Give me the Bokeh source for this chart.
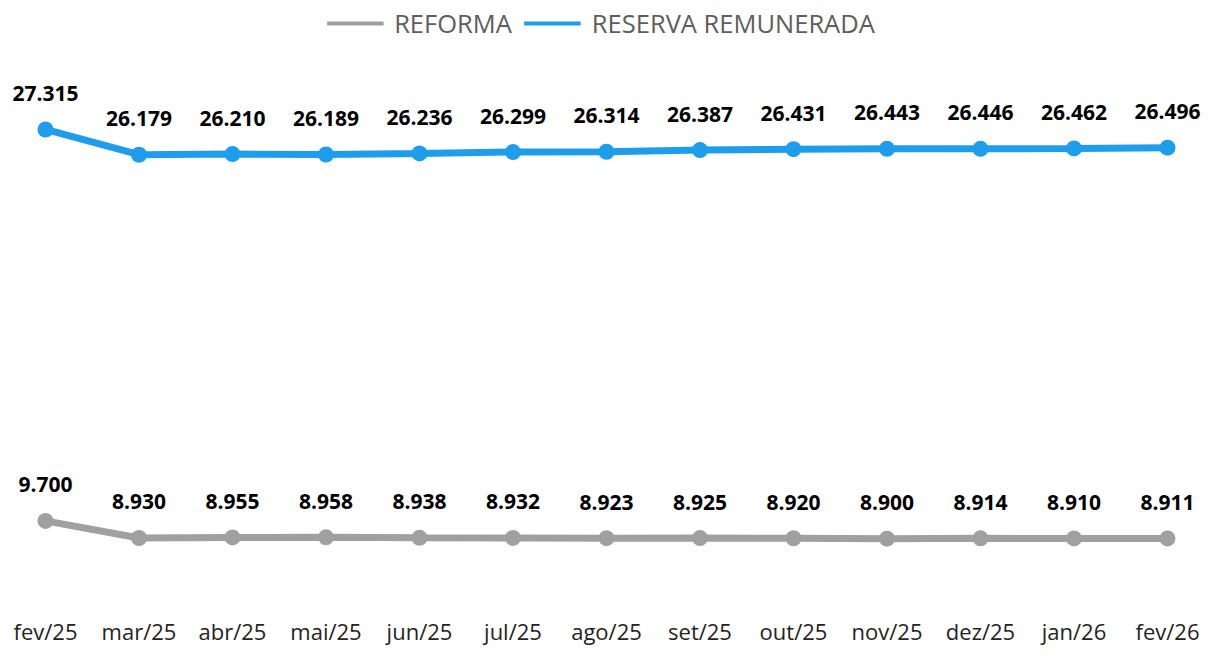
from bokeh.plotting import figure
from bokeh.models import ColumnDataSource, Legend, LegendItem, Range1d, FixedTicker
from bokeh.core.properties import value
from bokeh.embed import file_html
from bokeh.resources import INLINE

months = ["fev/25", "mar/25", "abr/25", "mai/25", "jun/25", "jul/25", "ago/25",
          "set/25", "out/25", "nov/25", "dez/25", "jan/26", "fev/26"]
reforma = [9700, 8930, 8955, 8958, 8938, 8932, 8923, 8925, 8920, 8900, 8914, 8910, 8911]
reserva = [27315, 26179, 26210, 26189, 26236, 26299, 26314, 26387, 26431, 26443, 26446, 26462, 26496]

BLUE = "#1F9DED"
GRAY = "#A0A0A0"
FONT = "Open Sans"

def fmt(v):
    return f"{v:,}".replace(",", ".")

idx = list(range(len(months)))
src_r = ColumnDataSource(dict(x=idx, y=reforma, lbl=[fmt(v) for v in reforma]))
src_b = ColumnDataSource(dict(x=idx, y=reserva, lbl=[fmt(v) for v in reserva]))

# x: first point at ~45px, last at ~1167px of a 1201px frame
step = (1167 - 45) / 12
x_start = -45 / step
x_end = 12 + (1201 - 1167) / step

p = figure(width=1201, height=648, output_backend="svg", toolbar_location=None,
           x_range=Range1d(x_start, x_end), y_range=Range1d(5892, 33120),
           min_border_left=0, min_border_right=0, min_border_top=0, min_border_bottom=0)
p.outline_line_color = None
p.grid.visible = False
p.yaxis.visible = False

xa = p.xaxis[0]
xa.ticker = FixedTicker(ticks=idx)
xa.major_label_overrides = {i: m for i, m in enumerate(months)}
xa.axis_line_color = None
xa.major_tick_line_color = None
xa.minor_tick_line_color = None
xa.major_label_text_font = FONT
xa.major_label_text_font_size = "22px"
xa.major_label_text_color = "#252423"
xa.major_label_standoff = 4

for src, col in ((src_r, GRAY), (src_b, BLUE)):
    p.line("x", "y", source=src, line_color=col, line_width=7)
    p.scatter("x", "y", source=src, size=16, fill_color=col, line_color=None)
    p.text("x", "y", text="lbl", source=src, text_align="center", text_baseline="middle",
           y_offset=-36, text_font=value(FONT), text_font_size="21px",
           text_font_style="bold", text_color="#000000")

d_r = p.line([-10, -9], [0, 0], line_color=GRAY, line_width=4)
d_b = p.line([-10, -9], [0, 0], line_color=BLUE, line_width=4)
legend = Legend(items=[LegendItem(label="REFORMA", renderers=[d_r]),
                       LegendItem(label="RESERVA REMUNERADA", renderers=[d_b])],
                location="top_center", orientation="horizontal",
                label_text_font=FONT, label_text_font_size="25.5px",
                label_text_color="#605E5C", glyph_width=57, glyph_height=30,
                spacing=12, label_standoff=11, padding=0, margin=6,
                border_line_color=None, background_fill_alpha=0)
p.add_layout(legend, "center")

open("out.html", "w").write(file_html(p, INLINE))
